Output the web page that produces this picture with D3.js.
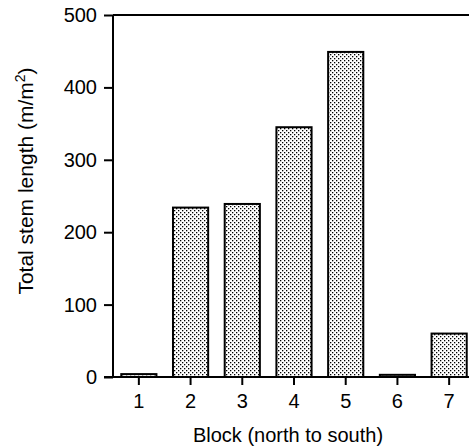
<!DOCTYPE html>
<html>
<head>
<meta charset="utf-8">
<script src="https://cdn.jsdelivr.net/npm/d3@7"></script>
<style>
  html, body { margin: 0; padding: 0; background: #fff; }
  svg { display: block; }
  text { font-family: "Liberation Sans", Arial, Helvetica, sans-serif; fill: #000; }
</style>
</head>
<body>
<svg id="chart" width="469" height="448"></svg>
<script>
const blocks = ["1", "2", "3", "4", "5", "6", "7"];
const stemLength = [4, 234, 239, 345, 449, 3, 60];
const yTicks = [0, 100, 200, 300, 400, 500];

const W = 469, H = 448;
const svg = d3.select("#chart");

const x = d3.scaleBand().domain(blocks).range([113, 475]).paddingInner(0.32).paddingOuter(0.16);
const y = d3.scaleLinear().domain([0, 500]).range([377, 15]);

const defs = svg.append("defs");
const pat = defs.append("pattern").attr("id", "dots").attr("patternUnits", "userSpaceOnUse")
  .attr("width", 4).attr("height", 4);
pat.append("rect").attr("width", 4).attr("height", 4).attr("fill", "#fff");
pat.append("rect").attr("x", 0).attr("y", 0).attr("width", 1.3).attr("height", 1.3).attr("fill", "#000");
pat.append("rect").attr("x", 2).attr("y", 2).attr("width", 1.3).attr("height", 1.3).attr("fill", "#000");

// bars
svg.append("g").selectAll("rect").data(blocks).join("rect")
  .attr("x", d => x(d))
  .attr("width", x.bandwidth())
  .attr("y", (d, i) => y(stemLength[i]))
  .attr("height", (d, i) => y(0) - y(stemLength[i]))
  .attr("fill", "url(#dots)")
  .attr("stroke", "#000")
  .attr("stroke-width", 2);

// top frame line
svg.append("line").attr("x1", 113).attr("x2", W).attr("y1", y(500)).attr("y2", y(500))
  .attr("stroke", "#000").attr("stroke-width", 2);

// y axis
const yAxis = svg.append("g").attr("transform", "translate(113,0)")
  .call(d3.axisLeft(y).tickValues(yTicks).tickSize(9).tickPadding(7).tickFormat(d3.format("d")));
yAxis.select(".domain").attr("stroke-width", 2).attr("d", `M0,${y(500)}V${y(0)}`);
yAxis.selectAll(".tick line").attr("stroke-width", 2);
yAxis.selectAll(".tick text").style("font-size", "20px").attr("font-family", null);

// x axis
const xAxis = svg.append("g").attr("transform", `translate(0,${y(0)})`)
  .call(d3.axisBottom(x).tickSize(8).tickPadding(9));
xAxis.select(".domain").attr("stroke-width", 2).attr("d", `M104,0H${W}`);
xAxis.selectAll(".tick line").attr("stroke-width", 2);
xAxis.selectAll(".tick text").style("font-size", "20px").attr("font-family", null);

// axis titles
svg.append("text").attr("x", 288).attr("y", 442).attr("text-anchor", "middle")
  .style("font-size", "20px").text("Block (north to south)");

const yt = svg.append("text").attr("transform", "translate(33,181) rotate(-90)")
  .attr("text-anchor", "middle").style("font-size", "21px");
yt.append("tspan").text("Total stem length (m/m");
yt.append("tspan").attr("dy", -8).style("font-size", "14px").text("2");
yt.append("tspan").attr("dy", 8).text(")");
</script>
</body>
</html>
